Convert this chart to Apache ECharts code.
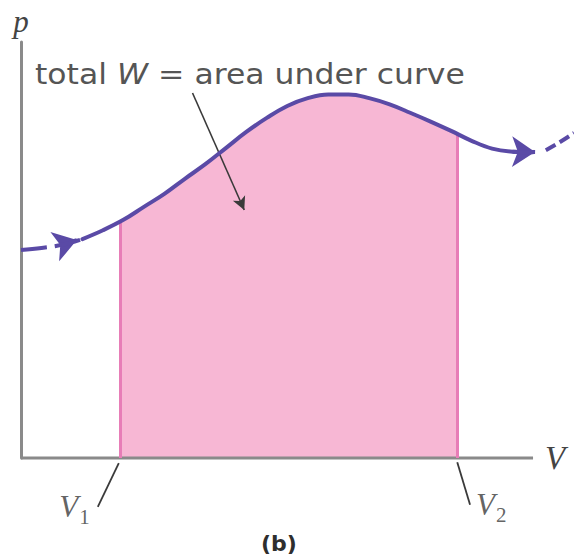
<!DOCTYPE html>
<html>
<head>
<meta charset="utf-8">
<script src="https://cdn.jsdelivr.net/npm/echarts@6/dist/echarts.min.js"></script>
<style>
  html, body { margin: 0; padding: 0; background: #ffffff; }
  #chart { width: 574px; height: 558px; }
</style>
</head>
<body>
<div id="chart"></div>
<script>
// p–V curve in arbitrary units: volume on x, pressure on y.
// Incoming dashed part of the curve
const inVolume   = [0, 0.4, 0.8, 1.2];
const inPressure = [4.00, 4.04, 4.10, 4.21];
// Solid part of the curve
const curveVolume   = [1.2, 1.6, 2.0, 2.4, 2.8, 3.2, 3.6, 4.0, 4.4, 4.8, 5.2, 5.6, 6.0, 6.4, 6.8, 7.2, 7.6, 8.0, 8.4, 8.8, 9.2, 9.6, 10.0];
const curvePressure = [4.21, 4.38, 4.58, 4.83, 5.08, 5.37, 5.65, 5.96, 6.27, 6.54, 6.77, 6.92, 6.99, 6.99, 6.92, 6.80, 6.64, 6.47, 6.29, 6.10, 5.95, 5.89, 5.88];
// Outgoing dashed part of the curve
const outVolume   = [10.25, 10.5, 10.8];
const outPressure = [5.92, 6.06, 6.25];
// Limits of the shaded work area
const V1 = 1.93;
const V2 = 8.52;
// Drawn length of the volume axis, and the plotting extents
const volumeAxisEnd = 10;
const volumeMax = 10.8;
const pressureMax = 8;

const zip = (xs, ys) => xs.map((x, i) => [x, ys[i]]);
const inPts = zip(inVolume, inPressure);
const curvePts = zip(curveVolume, curvePressure);
const outPts = zip(outVolume, outPressure);

// Pressure on the curve at a given volume (linear between neighbouring points)
function pAt(v) {
  for (let i = 1; i < curveVolume.length; i++) {
    if (v <= curveVolume[i]) {
      const t = (v - curveVolume[i - 1]) / (curveVolume[i] - curveVolume[i - 1]);
      return curvePressure[i - 1] + t * (curvePressure[i] - curvePressure[i - 1]);
    }
  }
  return curvePressure[curvePressure.length - 1];
}

const curveColor = '#5a4aa6';
const pinkFill = '#f7b7d4';
const pinkEdge = '#e77db7';
const axisColor = '#8a8a8a';
const inkColor = '#3a3a3a';
const serif = '"Liberation Serif", "DejaVu Serif", serif';
const sans = '"DejaVu Sans", "Open Sans", sans-serif';

// Arrowhead placed along the curve: a short segment ending at the head
function curveArrow(from, to) {
  return [{ coord: from, symbol: 'none' }, { coord: to, symbol: 'arrow' }];
}

const vLabelRich = {
  v: { fontFamily: serif, fontStyle: 'italic', fontSize: 31, color: '#3a3a3a', lineHeight: 36 },
  s: { fontFamily: serif, fontSize: 21, color: '#3a3a3a', lineHeight: 36, padding: [20, 0, 0, 1] }
};

function leader(from, to) {
  return {
    type: 'line', data: [from, to], symbol: 'none', clip: false, z: 6, silent: true,
    lineStyle: { color: inkColor, width: 1.8 }
  };
}

const chart = echarts.init(document.getElementById('chart'), null, { renderer: 'svg' });

chart.setOption({
  animation: false,
  backgroundColor: '#ffffff',
  title: {
    text: '(b)',
    left: 261,
    top: 532,
    padding: 0,
    textStyle: { fontFamily: sans, fontSize: 22, fontWeight: 'bold', color: '#2e2e2e' }
  },
  graphic: [
    {
      type: 'text',
      x: 35,
      y: 57,
      scaleX: 1.085,
      z: 10,
      style: {
        text: 'total {w|W} = area under curve',
        fill: '#555555',
        fontFamily: sans,
        fontSize: 29,
        lineHeight: 34,
        rich: { w: { fontFamily: sans, fontStyle: 'italic', fontSize: 29, fill: '#555555', lineHeight: 34 } }
      }
    }
  ],
  // 10 volume units span 514 px; the plot runs past the right edge of the page
  grid: { left: 21, top: 42, width: 555.1, bottom: 100, containLabel: false },
  xAxis: {
    type: 'value', min: 0, max: volumeMax,
    axisLine: { show: false }, axisTick: { show: false }, axisLabel: { show: false }, splitLine: { show: false }
  },
  yAxis: {
    type: 'value', min: 0, max: pressureMax, z: 3,
    name: 'p', nameLocation: 'end', nameGap: 5,
    nameTextStyle: { fontFamily: serif, fontStyle: 'italic', fontSize: 31, color: '#444', align: 'center' },
    axisLine: { show: true, onZero: false, lineStyle: { color: axisColor, width: 3 } },
    axisTick: { show: false }, axisLabel: { show: false }, splitLine: { show: false }
  },
  visualMap: {
    type: 'piecewise', show: false, seriesIndex: 0, dimension: 0,
    pieces: [{ gte: V1, lte: V2, color: pinkFill }],
    outOfRange: { color: 'rgba(255,255,255,0)' }
  },
  series: [
    {
      name: 'work area',
      type: 'line',
      data: curvePts,
      smooth: 0.4,
      symbol: 'none',
      z: 1,
      lineStyle: { width: 0 },
      areaStyle: { opacity: 1 },
      markLine: {
        silent: true, symbol: 'none', label: { show: false },
        lineStyle: { color: pinkEdge, width: 3, type: 'solid' },
        data: [
          [{ coord: [V1, 0] }, { coord: [V1, pAt(V1)] }],
          [{ coord: [V2, 0] }, { coord: [V2, pAt(V2)] }]
        ]
      }
    },
    {
      // volume axis, drawn to its own length with its name at the end
      name: 'V axis',
      type: 'line',
      data: [[0, 0], [volumeAxisEnd, 0]],
      symbol: 'none',
      clip: false,
      z: 3,
      silent: true,
      lineStyle: { color: axisColor, width: 3, cap: 'butt' },
      endLabel: {
        show: true, formatter: 'V', distance: 12,
        fontFamily: serif, fontStyle: 'italic', fontSize: 33, color: '#444', padding: [6, 0, 0, 0]
      }
    },
    {
      name: 'curve in',
      type: 'line',
      data: inPts,
      smooth: 0.4,
      symbol: 'none',
      clip: false,
      z: 5,
      lineStyle: { color: curveColor, width: 4, type: [26, 8], cap: 'butt' }
    },
    {
      name: 'curve',
      type: 'line',
      data: curvePts,
      smooth: 0.4,
      symbol: 'none',
      clip: false,
      z: 5,
      lineStyle: { color: curveColor, width: 4, cap: 'round' },
      markLine: {
        silent: true, label: { show: false }, symbolSize: [23, 23],
        lineStyle: { color: curveColor, width: 4, type: 'solid' },
        data: [
          curveArrow([0.85, 4.12], [1.09, 4.19]),
          curveArrow([9.6, 5.89], [10.04, 5.885])
        ]
      }
    },
    {
      name: 'curve out',
      type: 'line',
      data: outPts,
      smooth: 0.4,
      symbol: 'none',
      clip: false,
      z: 5,
      lineStyle: { color: curveColor, width: 4, type: [11, 5], cap: 'butt' }
    },
    {
      name: 'pointer',
      type: 'line',
      data: [],
      z: 6,
      markLine: {
        silent: true, label: { show: false },
        lineStyle: { color: inkColor, width: 1.6, type: 'solid' },
        data: [
          [{ coord: [3.35, 7.02], symbol: 'none' }, { coord: [4.36, 4.77], symbol: 'arrow', symbolSize: [10, 13] }]
        ]
      }
    },
    leader([V1 - 0.02, -0.1], [V1 - 0.43, -0.94]),
    leader([V2, -0.08], [V2 + 0.25, -0.9]),
    {
      name: 'limit labels',
      type: 'scatter',
      symbolSize: 0,
      clip: false,
      z: 6,
      silent: true,
      data: [
        { value: [V1 - 0.43, -0.94], label: { show: true, position: 'left', distance: 8, formatter: '{v|V}{s|1}', rich: vLabelRich } },
        { value: [V2 + 0.25, -0.9], label: { show: true, position: 'right', distance: 6, formatter: '{v|V}{s|2}', rich: vLabelRich } }
      ]
    }
  ]
});
</script>
</body>
</html>
